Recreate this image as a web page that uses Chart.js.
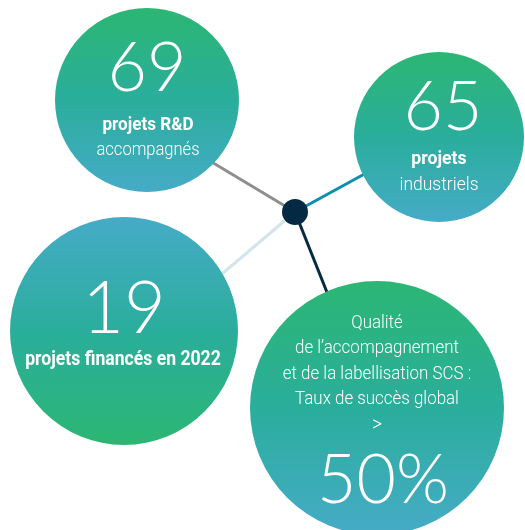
<!DOCTYPE html>
<html>
<head>
<meta charset="utf-8">
<script src="https://cdn.jsdelivr.net/npm/chart.js@4.4.0/dist/chart.umd.min.js"></script>
<style>
  html, body { margin: 0; padding: 0; background: #fff; }
  #wrap { width: 525px; height: 530px; position: relative; }
</style>
</head>
<body>
<div id="wrap"><canvas id="grafico"></canvas></div>
<script>
// DONNÉES
const chiffres = [69, 65, 19, 50]
const suffixes = ['', '', '', '%']
const libellesGras = ['projets R&D', 'projets', 'projets financés en 2022', '']
const libellesFins = [['accompagnés'], ['industriels'], [], ['Qualité', 'de l\u2019accompagnement', 'et de la labellisation SCS :', 'Taux de succès global', '>']]

// MISE EN PAGE (positions dans le repère 525 x 530)
const posX = [147, 439, 124, 377]
const posY = [100, 137, 331, 408]
const rayons = [92, 85, 114, 127]
const gradientInverse = [false, false, true, false]
const centre = { x: 295, y: 212 }
const branches = [
    { x: 180, y: 143, couleur: '#8e8e8e' },
    { x: 390, y: 160, couleur: '#0b8fae' },
    { x: 190, y: 301, couleur: '#d2e5ec' },
    { x: 342, y: 330, couleur: '#062a40' }
]

const VERT = '#2cb673'
const MILIEU = '#2aae9c'
const BLEU = '#46abc7'

function degrade(context) {
    const chart = context.chart
    const i = context.dataIndex
    if (!chart.chartArea || i === undefined) return MILIEU
    const y = chart.scales.y.getPixelForValue(posY[i])
    const r = rayons[i]
    const g = chart.ctx.createLinearGradient(0, y - r, 0, y + r)
    const haut = gradientInverse[i] ? BLEU : VERT
    const bas = gradientInverse[i] ? VERT : BLEU
    g.addColorStop(0, haut)
    g.addColorStop(0.5, MILIEU)
    g.addColorStop(1, bas)
    return g
}

// texte étroit (pas de police condensée installée)
function texteEtroit(ctx, txt, x, y, font, etroit) {
    ctx.save()
    ctx.font = font
    ctx.translate(x, y)
    ctx.scale(etroit, 1)
    ctx.fillText(txt, 0, 0)
    ctx.restore()
}

// TEXTES DANS LES CERCLES
const textes = {
    id: 'textes',
    afterDraw(chart) {
        const ctx = chart.ctx
        const meta = chart.getDatasetMeta(0)
        ctx.save()
        ctx.fillStyle = '#ffffff'
        ctx.textAlign = 'center'
        ctx.textBaseline = 'middle'
        const fin = '300 19px Roboto, sans-serif'
        const gros = '300 68px Lato, Roboto, sans-serif'
        meta.data.forEach((pt, i) => {
            const x = pt.x, y = pt.y
            const nombre = chiffres[i] + suffixes[i]
            if (i === 0) {
                ctx.font = gros
                ctx.fillText(nombre, x, y - 31)
                texteEtroit(ctx, libellesGras[i], x + 1, y + 25, 'bold 19px Roboto, sans-serif', 0.9)
                texteEtroit(ctx, libellesFins[i][0], x + 1, y + 50, fin, 0.87)
            } else if (i === 1) {
                ctx.font = gros
                ctx.fillText(nombre, x + 4, y - 29)
                texteEtroit(ctx, libellesGras[i], x, y + 22, 'bold 19px Roboto, sans-serif', 0.93)
                texteEtroit(ctx, libellesFins[i][0], x, y + 48, fin, 0.92)
            } else if (i === 2) {
                ctx.font = '300 72px Lato, Roboto, sans-serif'
                ctx.fillText(nombre, x, y - 21)
                texteEtroit(ctx, libellesGras[i], x - 1, y + 29, 'bold 20px Roboto, sans-serif', 0.88)
            } else {
                libellesFins[i].forEach((l, k) => {
                    const f = k === 4 ? '300 22px Roboto, sans-serif' : fin
                    texteEtroit(ctx, l, x, y - 85 + k * 25.5, f, 0.89)
                })
                ctx.font = gros
                ctx.fillText(nombre, x + 6, y + 73)
            }
        })
        ctx.restore()
    }
}

const datasets = [{
    type: 'bubble',
    data: posX.map((x, i) => ({ x: x, y: posY[i], r: rayons[i] })),
    backgroundColor: degrade,
    borderWidth: 0,
    order: 1
}, {
    type: 'bubble',
    data: [{ x: centre.x, y: centre.y, r: 13 }],
    backgroundColor: '#032a42',
    borderWidth: 0,
    order: 0
}]

branches.forEach(b => {
    datasets.push({
        type: 'line',
        data: [{ x: centre.x, y: centre.y }, { x: b.x, y: b.y }],
        borderColor: b.couleur,
        borderWidth: 3,
        pointRadius: 0,
        fill: false,
        order: 2
    })
})

new Chart(document.querySelector('#grafico'), {
    type: 'bubble',
    data: { datasets: datasets },
    options: {
        responsive: true,
        maintainAspectRatio: false,
        animation: false,
        events: [],
        layout: { padding: 0, autoPadding: false },
        plugins: { legend: { display: false }, tooltip: { enabled: false } },
        scales: {
            x: { type: 'linear', min: 0, max: 525, display: false },
            y: { type: 'linear', min: 0, max: 530, reverse: true, display: false }
        }
    },
    plugins: [textes]
})
</script>
</body>
</html>
